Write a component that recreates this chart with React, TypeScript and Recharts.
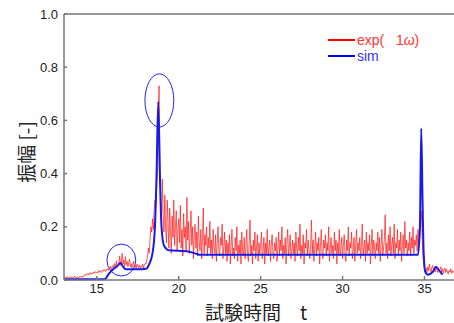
import React from 'react';
import { LineChart, Line, XAxis, YAxis, ReferenceLine, ReferenceArea } from 'recharts';

const expStart = 13.0;
const expStep = 0.05;
const expValues: number[] = [
  0.012, 0.009, 0.011, 0.007, 0.013, 0.01, 0.006, 0.011, 0.014, 0.009, 0.012, 0.008, 0.01, 0.015, 0.011, 0.007, 0.012, 0.01, 0.008, 0.013,
  0.011, 0.014, 0.01, 0.016, 0.013, 0.018, 0.022, 0.017, 0.02, 0.025, 0.019, 0.023, 0.028, 0.021, 0.026, 0.024, 0.03, 0.025, 0.032, 0.027,
  0.03, 0.026, 0.034, 0.029, 0.036, 0.031, 0.028, 0.037, 0.033, 0.04, 0.035, 0.032, 0.042, 0.038, 0.036, 0.047, 0.04, 0.052, 0.043, 0.048,
  0.055, 0.045, 0.062, 0.05, 0.072, 0.048, 0.058, 0.066, 0.09, 0.055, 0.068, 0.1, 0.06, 0.075, 0.052, 0.088, 0.058, 0.07, 0.05, 0.064,
  0.078, 0.05, 0.062, 0.045, 0.058, 0.07, 0.048, 0.055, 0.043, 0.06, 0.05, 0.046, 0.057, 0.042, 0.052, 0.048, 0.06, 0.045, 0.055, 0.062,
  0.06, 0.075, 0.09, 0.12, 0.1, 0.15, 0.2, 0.18, 0.23, 0.19, 0.26, 0.3, 0.28, 0.35, 0.4, 0.55, 0.73, 0.45, 0.3, 0.22,
  0.38, 0.25, 0.18, 0.32, 0.2, 0.14, 0.3, 0.22, 0.12, 0.27, 0.18, 0.1, 0.24, 0.16, 0.3, 0.13, 0.2, 0.26, 0.11, 0.19,
  0.23, 0.14, 0.28, 0.12, 0.19, 0.09, 0.25, 0.16, 0.2, 0.11, 0.31, 0.15, 0.22, 0.1, 0.18, 0.26, 0.13, 0.2, 0.08, 0.17,
  0.21, 0.12, 0.18, 0.09, 0.24, 0.14, 0.11, 0.19, 0.08, 0.15, 0.27, 0.1, 0.17, 0.13, 0.2, 0.09, 0.16, 0.12, 0.22, 0.1,
  0.15, 0.08, 0.19, 0.12, 0.1, 0.17, 0.07, 0.14, 0.2, 0.11, 0.09, 0.16, 0.13, 0.21, 0.08, 0.12, 0.18, 0.1, 0.15, 0.07,
  0.14, 0.1, 0.17, 0.06, 0.13, 0.19, 0.09, 0.12, 0.08, 0.16, 0.11, 0.2, 0.07, 0.13, 0.1, 0.15, 0.06, 0.18, 0.11, 0.09,
  0.16, 0.08, 0.12, 0.19, 0.1, 0.07, 0.14, 0.225, 0.09, 0.13, 0.06, 0.15, 0.11, 0.18, 0.08, 0.12, 0.17, 0.07, 0.14, 0.1,
  0.13, 0.18, 0.08, 0.11, 0.16, 0.06, 0.14, 0.1, 0.19, 0.09, 0.12, 0.15, 0.07, 0.13, 0.17, 0.1, 0.08, 0.14, 0.11, 0.16,
  0.07, 0.12, 0.18, 0.09, 0.15, 0.11, 0.2, 0.08, 0.13, 0.1, 0.16, 0.06, 0.14, 0.19, 0.09, 0.12, 0.17, 0.08, 0.11, 0.15,
  0.1, 0.14, 0.07, 0.18, 0.12, 0.09, 0.16, 0.11, 0.21, 0.08, 0.13, 0.1, 0.17, 0.06, 0.14, 0.12, 0.19, 0.09, 0.15, 0.11,
  0.08, 0.13, 0.225, 0.1, 0.15, 0.07, 0.12, 0.18, 0.09, 0.14, 0.11, 0.16, 0.06, 0.13, 0.19, 0.1, 0.08, 0.15, 0.12, 0.17,
  0.09, 0.14, 0.11, 0.2, 0.07, 0.12, 0.16, 0.1, 0.13, 0.08, 0.18, 0.11, 0.15, 0.06, 0.14, 0.1, 0.19, 0.09, 0.12, 0.16,
  0.08, 0.13, 0.17, 0.1, 0.07, 0.15, 0.11, 0.2, 0.09, 0.14, 0.12, 0.18, 0.08, 0.11, 0.16, 0.07, 0.13, 0.19, 0.1, 0.14,
  0.11, 0.16, 0.08, 0.13, 0.21, 0.09, 0.12, 0.15, 0.07, 0.18, 0.1, 0.14, 0.11, 0.17, 0.06, 0.13, 0.19, 0.09, 0.15, 0.12,
  0.08, 0.14, 0.11, 0.18, 0.1, 0.16, 0.07, 0.13, 0.19, 0.09, 0.12, 0.15, 0.245, 0.1, 0.14, 0.08, 0.17, 0.11, 0.2, 0.09,
  0.13, 0.16, 0.1, 0.21, 0.08, 0.14, 0.12, 0.19, 0.09, 0.15, 0.11, 0.18, 0.07, 0.13, 0.17, 0.1, 0.22, 0.12, 0.15, 0.09,
  0.14, 0.11, 0.18, 0.09, 0.16, 0.12, 0.2, 0.1, 0.15, 0.13, 0.17, 0.11, 0.19, 0.14, 0.16, 0.2, 0.26, 0.18, 0.1, 0.06,
  0.04, 0.03, 0.045, 0.028, 0.05, 0.035, 0.06, 0.04, 0.03, 0.048, 0.055, 0.035, 0.042, 0.03, 0.05, 0.038, 0.028, 0.045, 0.033, 0.04,
  0.05, 0.03, 0.042, 0.025, 0.038, 0.045, 0.028, 0.04, 0.032, 0.022, 0.036, 0.03, 0.042, 0.025, 0.035, 0.028, 0.033,
];

const simTimes: number[] = [
  13.0, 15.5, 15.7, 15.9, 16.1, 16.3, 16.45, 16.6, 16.8, 17.5, 18.0, 18.2, 18.4, 18.55, 18.65,
  18.75, 18.85, 18.95, 19.1, 19.4, 20.5, 21.0, 21.3, 34.6, 34.72, 34.8, 34.88, 34.95, 35.05,
  35.2, 35.5, 35.7, 35.9, 36.1,
];
const simValues: number[] = [
  0.003, 0.003, 0.02, 0.035, 0.045, 0.055, 0.065, 0.05, 0.04, 0.04, 0.042, 0.06, 0.1, 0.2, 0.4,
  0.67, 0.4, 0.2, 0.13, 0.112, 0.108, 0.1, 0.095, 0.095, 0.2, 0.57, 0.3, 0.1, 0.03,
  0.02, 0.03, 0.05, 0.035, 0.02,
];

const xTicks = [15, 20, 25, 30, 35];
const yTicks = [0, 0.2, 0.4, 0.6, 0.8, 1.0];

// highlighted regions (ellipses): [x1, x2, y1, y2]
const circles: number[][] = [
  [15.62, 17.38, 0.015, 0.135],
  [17.94, 19.7, 0.575, 0.775],
];

const expData = expValues.map((v, i) => ({ t: +(expStart + i * expStep).toFixed(2), v }));
const simData = simTimes.map((t, i) => ({ t, v: simValues[i] }));

const latin = '"Liberation Sans", Arial, sans-serif';
const cjk = '"Noto Sans CJK JP", sans-serif';

const Ellipse = (props: any) => {
  const { x, y, width, height } = props;
  return (
    <ellipse
      cx={x + width / 2}
      cy={y + height / 2}
      rx={Math.abs(width) / 2}
      ry={Math.abs(height) / 2}
      fill="none"
      stroke="#2222ee"
      strokeWidth={1}
    />
  );
};

const YLabel = () => (
  <text
    x={25}
    y={152}
    transform="rotate(-90 25 152)"
    textAnchor="middle"
    dominantBaseline="central"
    fontFamily={cjk}
    fontSize={19}
    fill="#222"
  >
    振幅 [-]
  </text>
);

const XLabel = () => (
  <text x={256} y={311} textAnchor="middle" dominantBaseline="central" fontFamily={cjk} fontSize={19} fill="#222">
    試験時間　t
  </text>
);

export default function App() {
  return (
    <div style={{ position: 'absolute', left: 0, top: 0, width: 454, height: 323, background: '#fff' }}>
      <LineChart width={454} height={323} margin={{ top: 14, right: 0, bottom: 0, left: 0 }}>
        <XAxis
          type="number"
          dataKey="t"
          domain={[13, 36.8]}
          ticks={xTicks}
          allowDataOverflow
          height={43}
          tickSize={-4}
          tickMargin={8}
          stroke="#777"
          strokeWidth={1.5}
          tick={{ fill: '#222', fontSize: 13, fontFamily: latin }}
          label={<XLabel />}
        />
        <YAxis
          type="number"
          domain={[0, 1]}
          ticks={yTicks}
          width={64}
          tickSize={-3}
          tickMargin={9}
          stroke="#777"
          strokeWidth={1.5}
          tickFormatter={(v: number) => v.toFixed(1)}
          tick={{ fill: '#222', fontSize: 13, fontFamily: latin }}
          label={<YLabel />}
        />
        <ReferenceLine y={1} stroke="#777" strokeWidth={1.5} />
        <Line
          data={expData}
          dataKey="v"
          type="linear"
          stroke="#ff1a1a"
          strokeOpacity={0.8}
          strokeWidth={0.9}
          dot={false}
          isAnimationActive={false}
        />
        <Line
          data={simData}
          dataKey="v"
          type="monotone"
          stroke="#1a1ae6"
          strokeWidth={2}
          dot={false}
          isAnimationActive={false}
        />
        {circles.map((c, i) => (
          <ReferenceArea key={i} x1={c[0]} x2={c[1]} y1={c[2]} y2={c[3]} shape={<Ellipse />} />
        ))}
      </LineChart>
      <div style={{ position: 'absolute', left: 328, top: 32, fontFamily: latin, fontSize: 14, lineHeight: '16px' }}>
        <div style={{ display: 'flex', alignItems: 'center', color: '#ff3333', height: 16 }}>
          <span style={{ display: 'inline-block', width: 27, height: 2, background: '#ff0000', marginRight: 2 }} />
          <span>exp(&nbsp;&nbsp;&nbsp;1<i>ω</i>)</span>
        </div>
        <div style={{ display: 'flex', alignItems: 'center', color: '#3333ff', height: 16 }}>
          <span style={{ display: 'inline-block', width: 27, height: 2, background: '#0000ff', marginRight: 2 }} />
          <span>sim</span>
        </div>
      </div>
    </div>
  );
}
